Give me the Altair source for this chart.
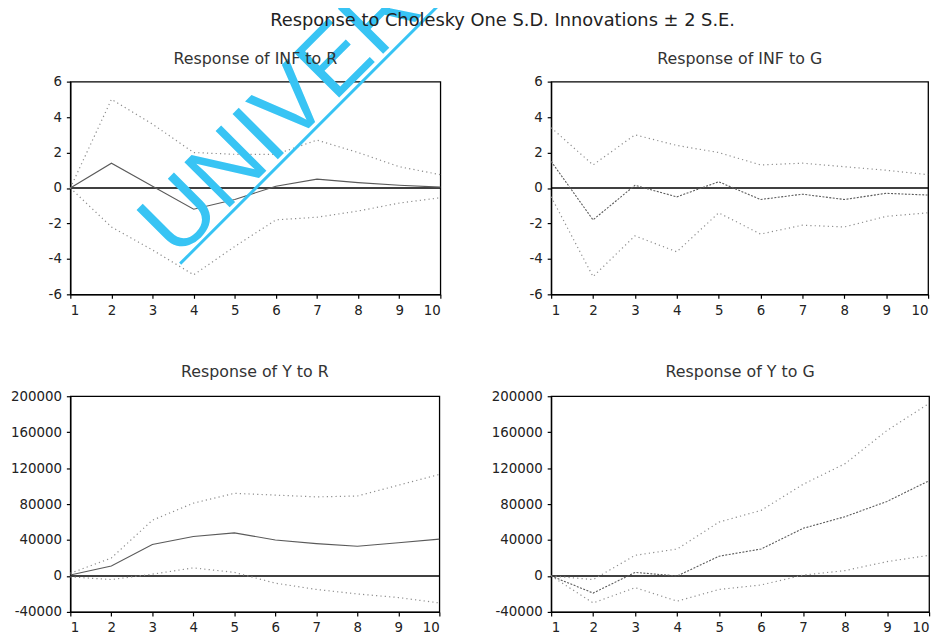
import altair as alt
import pandas as pd

periods = [1, 2, 3, 4, 5, 6, 7, 8, 9, 10]

inf_r_resp = [0.0, 1.4, 0.1, -1.2, -0.65, 0.1, 0.5, 0.3, 0.15, 0.05]
inf_r_upper = [0.0, 5.0, 3.6, 2.0, 1.9, 1.9, 2.7, 2.0, 1.2, 0.75]
inf_r_lower = [0.0, -2.2, -3.5, -4.9, -3.3, -1.8, -1.65, -1.3, -0.85, -0.55]

inf_g_resp = [1.5, -1.8, 0.15, -0.5, 0.35, -0.65, -0.35, -0.65, -0.3, -0.4]
inf_g_upper = [3.4, 1.3, 3.0, 2.4, 2.0, 1.3, 1.4, 1.2, 1.0, 0.75]
inf_g_lower = [-0.5, -5.0, -2.7, -3.6, -1.4, -2.6, -2.1, -2.2, -1.6, -1.4]

y_r_resp = [1000, 11000, 35000, 44000, 48000, 40000, 36000, 33000, 37000, 41000]
y_r_upper = [3000, 20000, 62000, 81000, 92000, 90000, 88000, 89000, 101000, 113000]
y_r_lower = [-1000, -4000, 2000, 9000, 4000, -8000, -15000, -20000, -24000, -30000]

y_g_resp = [0, -19000, 4000, 0, 22000, 30000, 53000, 66000, 83000, 106000]
y_g_upper = [0, -4000, 23000, 30000, 60000, 73000, 102000, 125000, 162000, 192000]
y_g_lower = [0, -30000, -13000, -28000, -15000, -10000, 1000, 6000, 16000, 23000]

inf_ticks = [-6, -4, -2, 0, 2, 4, 6]
y_ticks = [-40000, 0, 40000, 80000, 120000, 160000, 200000]

main_title = "Response to Cholesky One S.D. Innovations \u00b1 2 S.E."
panel_titles = ["Response of INF to R", "Response of INF to G",
                "Response of Y to R", "Response of Y to G"]
watermark_text = "UNIVERS"

FONT = "DejaVu Sans"
HYPHEN_EXPR = "replace(datum.label, '\u2212', '-')"


def panel(title, resp, upper, lower, domain, ticks, w, h, resp_dash, t_off):
    df = pd.DataFrame({
        "period": periods * 3,
        "value": resp + upper + lower,
        "series": ["resp"] * 10 + ["upper"] * 10 + ["lower"] * 10,
    })
    x = alt.X("period:Q", scale=alt.Scale(domain=[1, 10], nice=False, zero=False),
              axis=alt.Axis(values=periods, format="d", title=None, tickCount=30,
                            labelOverlap=False, labelPadding=5))
    y = alt.Y("value:Q", scale=alt.Scale(domain=domain, nice=False, zero=False),
              axis=alt.Axis(values=ticks, format="d", title=None, tickCount=30,
                            labelOverlap=False, labelPadding=5,
                            labelExpr=HYPHEN_EXPR))
    base = alt.Chart(df)
    zero = alt.Chart(pd.DataFrame({"z": [0]})).mark_rule(
        color="black", strokeWidth=1.4).encode(y=alt.datum(0))
    bands = base.transform_filter("datum.series != 'resp'").mark_line(
        color="#8c8c8c", strokeWidth=1.2, strokeDash=[1.2, 3.2]
    ).encode(x=x, y=y, detail="series:N")
    line_kw = dict(color="#5a5a5a", strokeWidth=1.1)
    if resp_dash:
        line_kw["strokeDash"] = resp_dash
    respl = base.transform_filter("datum.series == 'resp'").mark_line(
        **line_kw).encode(x=x, y=y)
    return [zero, bands, respl], dict(
        width=w, height=h,
        title=alt.TitleParams(title, fontSize=16, font=FONT, fontWeight="normal",
                              color="#333333", offset=t_off))


layers, props = panel(panel_titles[0], inf_r_resp, inf_r_upper, inf_r_lower,
                      [-6, 6], inf_ticks, 374, 215, None, -153)
one = alt.Chart(pd.DataFrame({"a": [0]}))
wm_text = one.mark_text(
    align="left", baseline="alphabetic", angle=315, fontSize=94,
    font="Liberation Sans", color="#38C4F4"
).encode(x=alt.value(107.5), y=alt.value(180.5), text=alt.value(watermark_text))
wm_line = one.mark_rule(color="#38C4F4", strokeWidth=3).encode(
    x=alt.value(111), y=alt.value(184), x2=alt.value(376), y2=alt.value(-81))
tl = alt.layer(*layers, wm_text, wm_line).properties(**props)

layers, props = panel(panel_titles[1], inf_g_resp, inf_g_upper, inf_g_lower,
                      [-6, 6], inf_ticks, 381, 215, [2, 1.5], 8)
tr = alt.layer(*layers).properties(**props)

layers, props = panel(panel_titles[2], y_r_resp, y_r_upper, y_r_lower,
                      [-40000, 200000], y_ticks, 373, 218, None, 9.5)
bl = alt.layer(*layers).properties(**props)

layers, props = panel(panel_titles[3], y_g_resp, y_g_upper, y_g_lower,
                      [-40000, 200000], y_ticks, 382, 218, [2, 1.5], 9.5)
br = alt.layer(*layers).properties(**props)

chart = alt.concat(
    tl, tr, bl, br, columns=2, bounds="flush",
    spacing={"row": 103, "column": 112}
).properties(
    title=alt.TitleParams(main_title, fontSize=18, font=FONT, fontWeight="normal",
                          color="#222222", anchor="middle", offset=-116, dx=32),
    padding={"top": -98, "left": 1, "right": 5, "bottom": 5},
).configure_axis(
    labelFont=FONT, labelFontSize=13.5, labelColor="#222222",
    domainColor="black", domainWidth=1.3, tickColor="black", tickWidth=1.2,
    tickSize=4, grid=False,
).configure_view(stroke="black", strokeWidth=1.3)

chart.save("out.html", embed_options={"renderer": "svg", "actions": False})
